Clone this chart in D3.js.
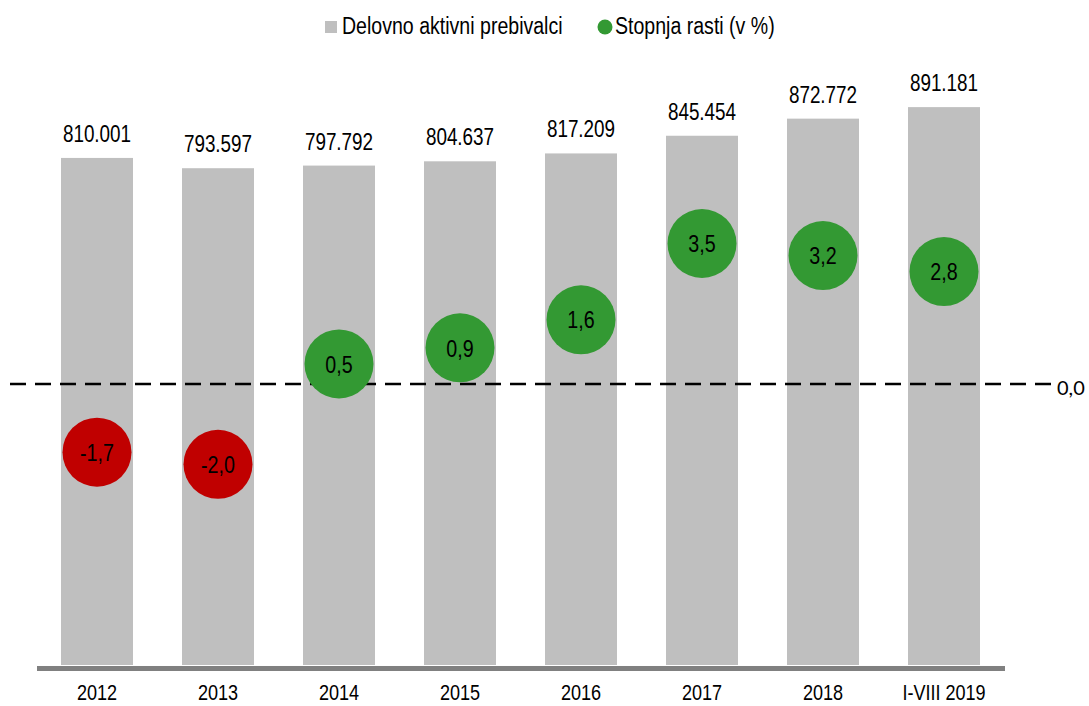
<!DOCTYPE html>
<html><head><meta charset="utf-8">
<script src="https://cdn.jsdelivr.net/npm/d3@7"></script>
<style>body{margin:0;background:#fff}svg{display:block}</style>
</head><body>
<svg id="c" width="1089" height="706"></svg>
<script>
const categories = ["2012","2013","2014","2015","2016","2017","2018","I-VIII 2019"];
const employed = [810001,793597,797792,804637,817209,845454,872772,891181];
const growth = [-1.7,-2.0,0.5,0.9,1.6,3.5,3.2,2.8];
const seriesNames = ["Delovno aktivni prebivalci","Stopnja rasti (v %)"];
const zeroLabel = "0,0";

const svg = d3.select("#c");
const font = "'Liberation Sans',Arial,sans-serif";
const baseY = 665;
const x = d3.scaleBand().domain(categories).range([36.5,1004.5]).paddingInner(0.405).paddingOuter(0.2025);
const y = d3.scaleLinear().domain([0,1000000]).range([baseY, baseY-626]);
const y2 = d3.scaleLinear().domain([-7,7]).range([baseY, 103]);
const fmtK = d3.formatLocale({decimal:",",thousands:".",grouping:[3]}).format(",d");
const fmtP = v => d3.format(".1f")(v).replace(".",",").replace("−","-");

function narrow(sel, f){
  sel.each(function(){
    const len = this.getComputedTextLength();
    d3.select(this).attr("textLength", len*f).attr("lengthAdjust","spacingAndGlyphs");
  });
}
const NF = 0.82;

svg.append("g").selectAll("rect").data(categories).join("rect")
  .attr("x", d=>x(d)).attr("width", x.bandwidth())
  .attr("y", (d,i)=>y(employed[i])).attr("height",(d,i)=>baseY-y(employed[i]))
  .attr("fill","#bfbfbf");

svg.append("g").selectAll("text").data(categories).join("text")
  .attr("x", d=>x(d)+x.bandwidth()/2).attr("y",(d,i)=>y(employed[i])-16)
  .attr("text-anchor","middle").attr("font-family",font).attr("font-size",23).attr("fill","#000")
  .text((d,i)=>fmtK(employed[i]))
  .call(narrow, NF);

// axis
const xAxis = d3.axisBottom(x).tickSize(0).tickPadding(16);
const gx = svg.append("g").attr("transform",`translate(0,${baseY+3})`).call(xAxis);
gx.select(".domain").attr("stroke","#808080").attr("stroke-width",5);
gx.selectAll("text").attr("font-family",font).attr("font-size",22).attr("fill","#000").call(narrow, NF);

// zero dashed line
svg.append("line").attr("x1",10).attr("x2",1057).attr("y1",y2(0)).attr("y2",y2(0))
  .attr("stroke","#000").attr("stroke-width",2.5).attr("stroke-dasharray","16,9");
svg.append("text").attr("x",1057).attr("y",y2(0)+11).attr("font-family","Lato,'Open Sans',sans-serif")
  .attr("font-size",20).attr("fill","#000").text(zeroLabel);

// circles
const cg = svg.append("g").selectAll("g").data(categories).join("g")
  .attr("transform",(d,i)=>`translate(${x(d)+x.bandwidth()/2},${y2(growth[i])})`);
cg.append("circle").attr("r",34.5).attr("fill",(d,i)=>growth[i]<0?"#c00000":"#339933");
cg.append("text").attr("text-anchor","middle").attr("dy","0.36em")
  .attr("font-family",font).attr("font-size",24).attr("fill","#000")
  .text((d,i)=>fmtP(growth[i]))
  .call(narrow, NF);

// legend
const lg = svg.append("g");
lg.append("rect").attr("x",325).attr("y",21).attr("width",12).attr("height",12).attr("fill","#bfbfbf");
lg.append("text").attr("x",342).attr("y",34).attr("font-family",font).attr("font-size",23).text(seriesNames[0]).call(narrow, 0.85);
lg.append("circle").attr("cx",605).attr("cy",27).attr("r",7.5).attr("fill","#339933");
lg.append("text").attr("x",615).attr("y",34).attr("font-family",font).attr("font-size",23).text(seriesNames[1]).call(narrow, 0.85);
</script>
</body></html>
